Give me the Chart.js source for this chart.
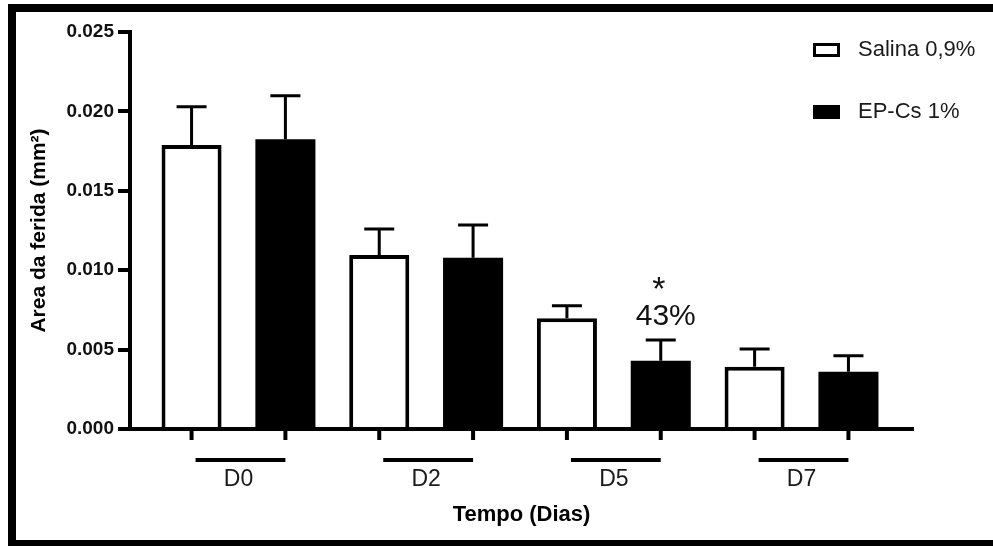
<!DOCTYPE html>
<html>
<head>
<meta charset="utf-8">
<script src="https://cdn.jsdelivr.net/npm/chart.js@4.4.0/dist/chart.umd.min.js"></script>
<style>
  html, body { margin: 0; padding: 0; background: #fff; }
  #wrap { position: relative; width: 993px; height: 546px; }
  #frame { position: absolute; left: 8px; top: 4px; right: 0; bottom: 0; border-left: 8px solid #000; border-top: 8px solid #000; border-bottom: 6px solid #000; pointer-events: none; }
</style>
</head>
<body>
<div id="wrap">
  <canvas id="woundChart" width="993" height="546"></canvas>
  <div id="frame"></div>
</div>
<script>
var days = ["D0", "D2", "D5", "D7"];
var salina = [0.01788, 0.01096, 0.00697, 0.00392];
var salinaSd = [0.00242, 0.00163, 0.00079, 0.00112];
var epcs = [0.01824, 0.01079, 0.00430, 0.00361];
var epcsSd = [0.00275, 0.00206, 0.00130, 0.00101];
var yTicks = [0, 0.005, 0.010, 0.015, 0.020, 0.025];
var sigMark = ["", "", "*", ""];
var reduction = ["", "", "43%", ""];

var FONT = "'Liberation Sans', Arial, sans-serif";
Chart.defaults.font.family = FONT;
Chart.defaults.color = "#111";

function points(arr) {
  return arr.map(function (v, i) { return { x: i, y: v }; });
}

var extras = {
  id: "extras",
  afterDatasetsDraw: function (chart) {
    var ctx = chart.ctx;
    var ys = chart.scales.y;
    var sds = [salinaSd, epcsSd];
    var metas = [chart.getDatasetMeta(0), chart.getDatasetMeta(1)];
    ctx.save();
    ctx.strokeStyle = "#000";
    ctx.fillStyle = "#000";

    // error bars (upper only) and tick marks under each bar
    chart.data.datasets.forEach(function (ds, d) {
      metas[d].data.forEach(function (bar, i) {
        var top = ys.getPixelForValue(ds.data[i].y + sds[d][i]);
        ctx.lineWidth = 3;
        ctx.beginPath();
        ctx.moveTo(bar.x, bar.y);
        ctx.lineTo(bar.x, top);
        ctx.moveTo(bar.x - 15, top);
        ctx.lineTo(bar.x + 15, top);
        ctx.stroke();

        ctx.lineWidth = 4;
        ctx.beginPath();
        ctx.moveTo(bar.x, ys.bottom);
        ctx.lineTo(bar.x, ys.bottom + 11);
        ctx.stroke();
      });
    });

    // underline below each day group
    days.forEach(function (day, i) {
      var a = metas[0].data[i], b = metas[1].data[i];
      ctx.lineWidth = 4;
      ctx.beginPath();
      ctx.moveTo(a.x + 4, ys.bottom + 31);
      ctx.lineTo(b.x, ys.bottom + 31);
      ctx.stroke();
    });

    // significance labels over EP-Cs bars
    ctx.textAlign = "center";
    ctx.textBaseline = "alphabetic";
    ctx.fillStyle = "#111";
    metas[1].data.forEach(function (bar, i) {
      if (!reduction[i]) return;
      var top = ys.getPixelForValue(epcs[i] + epcsSd[i]);
      ctx.font = "30px " + FONT;
      ctx.fillText(reduction[i], bar.x + 5, top - 15);
      ctx.font = "34px " + FONT;
      ctx.fillText(sigMark[i], bar.x - 2, top - 40);
    });

    // legend
    var lx = chart.chartArea.right - 100;
    var ly = chart.chartArea.top + 11;
    chart.data.datasets.forEach(function (ds, d) {
      var by = ly + d * 62;
      ctx.fillStyle = ds.backgroundColor;
      ctx.fillRect(lx, by, 27, 14);
      ctx.lineWidth = 3;
      ctx.strokeStyle = "#000";
      ctx.strokeRect(lx + 1.5, by + 1.5, 24, 11);
      ctx.fillStyle = "#1a1a1a";
      ctx.font = "22px " + FONT;
      ctx.textAlign = "left";
      ctx.textBaseline = "middle";
      ctx.fillText(ds.label, lx + 45, by + 7);
    });
    ctx.restore();
  }
};

new Chart(document.getElementById("woundChart"), {
  type: "bar",
  data: {
    datasets: [
      {
        label: "Salina 0,9%",
        data: points(salina),
        backgroundColor: "#ffffff",
        borderColor: "#000000",
        borderWidth: 4,
        borderSkipped: "bottom"
      },
      {
        label: "EP-Cs 1%",
        data: points(epcs),
        backgroundColor: "#000000",
        borderWidth: 0
      }
    ]
  },
  options: {
    responsive: false,
    animation: false,
    devicePixelRatio: 1,
    layout: { padding: { top: 32, right: 80, bottom: 0, left: 0 } },
    categoryPercentage: 1,
    barPercentage: 0.64,
    plugins: {
      legend: { display: false },
      tooltip: { enabled: false }
    },
    scales: {
      x: {
        type: "linear",
        min: -0.578,
        max: 3.594,
        offset: false,
        afterFit: function (s) { s.height = 117; },
        afterBuildTicks: function (s) {
          s.ticks = days.map(function (d, i) { return { value: i }; });
        },
        border: { color: "#000", width: 4 },
        grid: { display: false, drawTicks: false },
        ticks: {
          padding: 37,
          maxRotation: 0,
          autoSkip: false,
          color: "#1a1a1a",
          font: { size: 23 },
          callback: function (v) { return days[v]; }
        },
        title: {
          display: true,
          text: "Tempo (Dias)",
          color: "#000",
          font: { size: 22, weight: "bold" },
          padding: { top: 0, bottom: 18 }
        }
      },
      y: {
        min: 0,
        max: 0.025,
        afterFit: function (s) { s.width = 130; },
        afterBuildTicks: function (s) {
          s.ticks = yTicks.map(function (v) { return { value: v }; });
        },
        border: { color: "#000", width: 4 },
        grid: { drawOnChartArea: false, drawTicks: true, tickLength: 12, lineWidth: 4, color: "#000" },
        ticks: {
          padding: 4,
          color: "#111",
          font: { size: 19, weight: "bold" },
          callback: function (v) { return v.toFixed(3); }
        },
        title: {
          display: true,
          text: "Area da ferida (mm²)",
          color: "#000",
          font: { size: 21, weight: "bold" },
          padding: { top: 27, bottom: 0 }
        }
      }
    }
  },
  plugins: [extras]
});
</script>
</body>
</html>
